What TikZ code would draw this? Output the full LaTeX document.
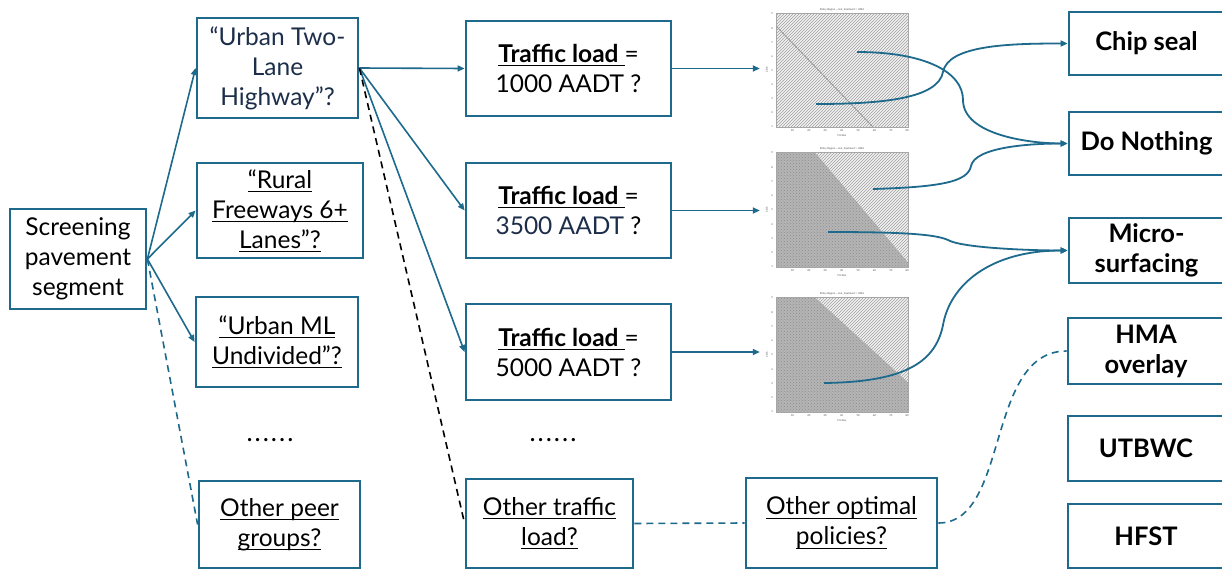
\documentclass[tikz,border=0pt]{standalone}
\usepackage{fontspec}
\setmainfont{Lato}
\usetikzlibrary{arrows.meta,patterns}
\definecolor{bl}{HTML}{1D6A8C}
\definecolor{navy}{HTML}{1C2E4A}
\newcommand\myul[1]{\setbox0\hbox{#1}\rlap{\rule[-3.5pt]{\wd0}{0.9pt}}\box0}
\tikzset{
  box/.style={draw=bl, line width=2.8pt, align=center, inner sep=0pt,
    font=\fontsize{24.5}{30}\selectfont},
  tbox/.style={box, font=\fontsize{25.5}{30}\selectfont\bfseries},
  con/.style={draw=bl, line width=1.6pt, -{Triangle[length=7pt,width=6pt]}},
  dcon/.style={draw=bl, line width=1.6pt, dash pattern=on 7pt off 5pt},
  kcon/.style={draw=black, line width=1.6pt, dash pattern=on 7pt off 5pt},
  crv/.style={draw=bl, line width=1.8pt, -{Triangle[length=7pt,width=6pt]}},
  tiny/.style={font=\fontsize{2.6}{3}\selectfont, inner sep=0pt, text=black!70},
  plotarea/.style={inner sep=0pt, draw=none},
  dark/.style={fill=gray!58},
  darkpat/.style={pattern=crosshatch dots, pattern color=black!45},
  light/.style={fill=gray!10},
  lightpat/.style={pattern=north east lines, pattern color=gray!75},
  ellip/.style={font=\fontsize{26}{30}\selectfont, inner sep=0pt}
}
\begin{document}
\begin{tikzpicture}[x=1pt,y=-1pt]
\useasboundingbox (0,0) rectangle (1222,570);
\fill[white] (0,0) rectangle (1222,570);

% ---------- plots ----------
% plot 1
\fill[light] (776,13) rectangle (908,127);
\fill[lightpat] (776,13) rectangle (908,127);
\draw[gray!80, line width=0.8pt] (777,27) -- (873,127);
% plot 2
\fill[dark] (777,152) -- (815,152) -- (908,262) -- (908,267) -- (777,267) -- cycle;
\fill[darkpat] (777,152) -- (815,152) -- (908,262) -- (908,267) -- (777,267) -- cycle;
\fill[light] (815,152) -- (908,152) -- (908,262) -- cycle;
\fill[lightpat] (815,152) -- (908,152) -- (908,262) -- cycle;
% plot 3
\fill[dark] (776,297) -- (815,297) -- (908,382) -- (908,412) -- (776,412) -- cycle;
\fill[darkpat] (776,297) -- (815,297) -- (908,382) -- (908,412) -- (776,412) -- cycle;
\fill[light] (815,297) -- (908,297) -- (908,382) -- cycle;
\fill[lightpat] (815,297) -- (908,297) -- (908,382) -- cycle;

\foreach \yt/\yb/\nm in {13/127/p1,152/267/p2,297/412/p3}{
  \draw[gray!70, line width=0.3pt] (776,\yt) rectangle (908,\yb);
  \node[plotarea, minimum width=148pt, minimum height=114pt] (\nm) at (834,{(\yt+\yb)/2}) {};
  \node[tiny] at (842,\yt-3) {Policy Region — last\_treatment = HMA};
  \foreach \v in {10,20,...,80}{
    \node[tiny] at ({776+1.64*\v},\yb+4) {\v};
  }
  \foreach \v in {1,...,9}{
    \node[tiny] at (772,{\yb-(\v-1)*(\yb-\yt-1)/8}) {\v};
  }
  \node[tiny] at (842,\yb+9) {Friction};
  \node[tiny, rotate=90] at (767,{(\yt+\yb)/2}) {CDS};
}

% ---------- boxes ----------
\node[box, minimum width=136pt, minimum height=100pt] (scr) at (78,259)
  {Screening\\pavement\\segment};
\node[box, minimum width=161pt, minimum height=100pt, text=navy] (utl) at (277.5,68)
  {“Urban Two-\\Lane\\Highway”?};
\node[box, minimum width=166pt, minimum height=95pt] (rur) at (280,210.5)
  {\myul{“Rural}\\\myul{Freeways 6+}\\\myul{Lanes”?}};
\node[box, minimum width=162pt, minimum height=90pt] (uml) at (277,342)
  {\myul{“Urban ML}\\\myul{Undivided”?}};
\node[ellip] (dots1) at (270,440) {.\kern2pt.\kern2pt.\kern2pt.\kern2pt.\kern2pt.};
\node[box, minimum width=161pt, minimum height=87pt] (oth) at (279.5,524.5)
  {\myul{Other peer}\\\myul{groups?}};

\node[box, minimum width=205pt, minimum height=95pt] (t1) at (568.5,68.5)
  {\myul{\bfseries Traffic load }=\\1000 AADT ?};
\node[box, minimum width=205pt, minimum height=95pt] (t2) at (568.5,210.5)
  {\myul{\bfseries Traffic load }=\\\textcolor{navy}{3500 AADT} ?};
\node[box, minimum width=205pt, minimum height=96pt] (t3) at (568.5,352)
  {\myul{\bfseries Traffic load }=\\5000 AADT ?};
\node[ellip] (dots2) at (553,440) {.\kern2pt.\kern2pt.\kern2pt.\kern2pt.\kern2pt.};
\node[box, minimum width=167pt, minimum height=89pt] (otl) at (549.5,523.5)
  {\myul{Other traffic}\\\myul{load?}};
\node[box, minimum width=191pt, minimum height=90pt] (oop) at (841.5,523)
  {\myul{Other optimal}\\\myul{policies?}};

\node[tbox, minimum width=155pt, minimum height=63pt] (chip) at (1146.5,43.5) {Chip seal};
\node[tbox, minimum width=155pt, minimum height=63pt] (dono) at (1146.5,143.5) {Do Nothing};
\node[tbox, minimum width=155pt, minimum height=65pt] (micro) at (1146.5,250.5) {Micro-\\surfacing};
\node[tbox, minimum width=156pt, minimum height=66pt] (hma) at (1146,351) {HMA\\overlay};
\node[tbox, minimum width=156pt, minimum height=65pt] (utb) at (1146,448.5) {UTBWC};
\node[tbox, minimum width=156pt, minimum height=64pt] (hfst) at (1146,536) {HFST};

% ---------- connectors ----------
\draw[con] (scr.east) -- (utl.west);
\draw[con] (scr.east) -- (rur.west);
\draw[con] (scr.east) -- (uml.west);
\draw[dcon] (scr.east) -- (oth.west);

\draw[con] (utl.east) -- (t1.west);
\draw[con] (utl.east) -- (t2.west);
\draw[con] (utl.east) -- (t3.west);
\draw[kcon] (utl.east) -- (otl.west);

\draw[con] (t1.east) -- (t1.east -| p1.west);
\draw[con] (t2.east) -- (t2.east -| p2.west);
\draw[con] (t3.east) -- (t3.east -| p3.west);

\draw[dcon] (otl.east) -- (oop.west);
\draw[dcon] (oop.east) .. controls (1010,523) and (985,351) .. (hma.west);

% ---------- policy curves ----------
\coordinate (c1) at (857,52);
\coordinate (c2) at (816,104);
\coordinate (c3) at (873,189);
\coordinate (c4) at (828,232);
\coordinate (c5) at (824,383);
\draw[crv] (c1) .. controls (925,52) and (963,72) .. (963,100)
  .. controls (963,135) and (1030,143.5) .. (dono.west);
\draw[crv] (c2) .. controls (885,104) and (938,98) .. (943,72)
  .. controls (948,45) and (1010,43.5) .. (chip.west);
\draw[crv] (c3) .. controls (940,187) and (968,182) .. (971,166)
  .. controls (975,147) and (1030,143.5) .. (dono.west);
\draw[crv] (c4) .. controls (900,232) and (935,234) .. (948,240)
  .. controls (962,248) and (1030,250.5) .. (micro.west);
\draw[crv] (c5) .. controls (900,382) and (935,365) .. (943,325)
  .. controls (950,285) and (990,250.5) .. (micro.west);
\end{tikzpicture}
\end{document}
